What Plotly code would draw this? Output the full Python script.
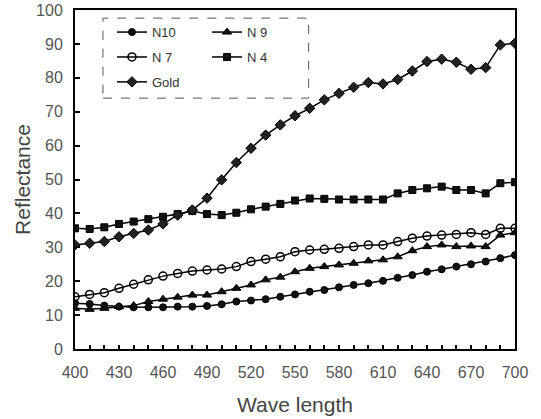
import plotly.graph_objects as go

wavelength = list(range(400, 701, 10))

n10 = [13.5, 13.3, 12.8, 12.5, 12.3, 12.3, 12.3, 12.5, 12.5, 12.7, 13.2, 14.0, 14.3, 14.7, 15.4, 16.1,
       16.9, 17.4, 18.2, 18.9, 19.4, 20.1, 21.0, 21.8, 22.8, 23.5, 24.3, 25.0, 25.8, 26.8, 27.7]
n9 = [12.0, 11.7, 12.0, 12.5, 12.8, 14.0, 14.7, 15.3, 15.9, 15.9, 16.9, 17.9, 18.9, 20.4, 21.2, 22.8,
      23.8, 24.3, 24.8, 25.3, 26.0, 26.3, 27.2, 29.0, 30.2, 30.7, 30.2, 30.4, 30.2, 33.6, 34.3]
n7 = [15.4, 16.1, 16.6, 17.9, 19.1, 20.4, 21.5, 22.3, 23.0, 23.3, 23.6, 24.3, 25.8, 26.5, 27.2, 28.7,
      29.2, 29.4, 29.7, 30.2, 30.7, 30.7, 31.7, 32.7, 33.3, 33.6, 33.8, 34.3, 33.8, 35.6, 35.6]
n4 = [35.6, 35.4, 35.9, 36.9, 37.6, 38.3, 39.0, 39.8, 40.7, 39.8, 39.5, 40.2, 41.2, 42.0, 42.8, 43.8,
      44.4, 44.3, 44.1, 44.1, 44.1, 44.1, 45.9, 46.9, 47.4, 47.9, 46.9, 46.9, 45.9, 48.9, 49.2]
gold = [30.7, 31.2, 31.7, 33.1, 34.1, 35.1, 36.9, 39.5, 41.0, 44.5, 49.9, 55.0, 59.2, 63.1, 66.1, 68.8,
        71.0, 73.5, 75.4, 77.2, 78.6, 78.2, 79.5, 82.0, 84.8, 85.5, 84.6, 82.5, 83.0, 89.7, 90.2]

x_ticks = list(range(400, 701, 30))
y_ticks = list(range(0, 101, 10))

series = [
    ("N10", n10, dict(symbol="circle", size=7, color="#111111", line=dict(color="black", width=1)), "legend"),
    ("N 9", n9, dict(symbol="triangle-up", size=8, color="#111111", line=dict(color="black", width=1)), "legend2"),
    ("N 7", n7, dict(symbol="circle-open", size=8, color="black", line=dict(color="black", width=1.5)), "legend"),
    ("N 4", n4, dict(symbol="square", size=7, color="#111111", line=dict(color="black", width=1)), "legend2"),
    ("Gold", gold, dict(symbol="diamond", size=8, color="#222222", line=dict(color="black", width=1)), "legend"),
]

fig = go.Figure()
for name, vals, mk, lg in series:
    fig.add_trace(go.Scatter(
        x=wavelength, y=vals, name=name, mode="lines+markers", legendgroup=name,
        line=dict(color="black", width=1.5), marker=mk, legend=lg,
    ))

font = dict(family="Liberation Sans, Arial, sans-serif", color="#444444")
legend_common = dict(
    bgcolor="rgba(0,0,0,0)", borderwidth=0,
    font=dict(family="Liberation Sans, Arial, sans-serif", size=13, color="#333333"),
    xanchor="left", yanchor="top", tracegroupgap=5, itemwidth=30,
)
fig.update_layout(
    width=541, height=419,
    margin=dict(l=75, r=26, t=10, b=70, autoexpand=False),
    paper_bgcolor="white", plot_bgcolor="white",
    font=font,
    legend=dict(x=0.084, y=0.979, **legend_common),
    legend2=dict(x=0.30, y=0.979, **legend_common),
    xaxis=dict(
        range=[400, 700], tickvals=x_ticks, ticktext=[str(v) for v in x_ticks],
        ticks="inside", ticklen=4, tickwidth=1.5, tickcolor="black",
        minor=dict(dtick=10, tick0=400, ticks="inside", ticklen=4, tickcolor="black", tickwidth=1.5),
        showline=True, linecolor="black", linewidth=2, mirror=True,
        showgrid=False, zeroline=False, automargin=False, ticklabelstandoff=8,
        tickfont=dict(size=16, color="#555555"),
        title=dict(text="Wave length", font=dict(size=21, color="#444444"), standoff=17),
    ),
    yaxis=dict(
        range=[0, 100], tickvals=y_ticks,
        ticks="inside", ticklen=5, tickwidth=1.5, tickcolor="black",
        showline=True, linecolor="black", linewidth=2, mirror=True,
        showgrid=False, zeroline=False, automargin=False, ticklabelstandoff=7,
        tickfont=dict(size=16, color="#555555"),
        title=dict(text="Reflectance", font=dict(size=21, color="#444444"), standoff=0),
    ),
    shapes=[dict(type="rect", xref="paper", yref="paper",
                 x0=0.0635, x1=0.531, y0=0.74, y1=0.976,
                 line=dict(color="#555555", width=1, dash="dash"))],
)

fig.write_html("out.html", config={"displayModeBar": False},
               post_script="document.body.style.margin='0px';")
